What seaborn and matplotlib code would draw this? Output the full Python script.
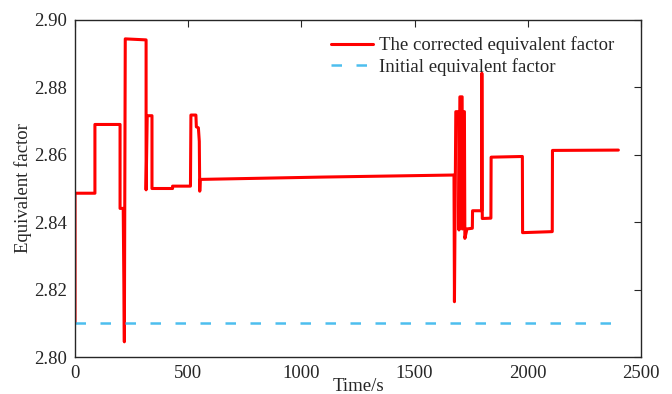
import matplotlib
matplotlib.use("Agg")
import matplotlib.pyplot as plt
import seaborn as sns
import pandas as pd

# Corrected equivalent factor trace (time in s, factor)
time_s = [0, 0, 88, 88, 199, 199, 213, 218, 222, 314, 314, 319, 340, 340,
          431, 431, 510, 512, 534, 536, 545, 549, 551, 553, 1100, 1674,
          1676, 1682, 1695, 1696, 1700, 1710, 1711, 1714, 1720, 1722, 1728,
          1731, 1755, 1756, 1796, 1797, 1799, 1837, 1838, 1976, 1977, 2108,
          2109, 2400]
corrected_factor = [2.810, 2.8486, 2.8486, 2.8690, 2.8690, 2.8441, 2.8441,
                    2.8045, 2.8944, 2.8941, 2.8496, 2.8716, 2.8716, 2.8500,
                    2.8500, 2.8507, 2.8507, 2.8718, 2.8718, 2.8683, 2.8680,
                    2.8640, 2.8492, 2.8527, 2.8534, 2.8540, 2.8164, 2.8728,
                    2.8728, 2.8377, 2.8772, 2.8772, 2.8380, 2.8728, 2.8728,
                    2.8352, 2.8370, 2.8380, 2.8382, 2.8434, 2.8434, 2.8842,
                    2.8411, 2.8412, 2.8593, 2.8595, 2.8369, 2.8372, 2.8613,
                    2.8614]

# Initial (constant) equivalent factor
initial_time = [0, 2400]
initial_factor = [2.81, 2.81]

x_ticks = [0, 500, 1000, 1500, 2000, 2500]
y_ticks = [2.80, 2.82, 2.84, 2.86, 2.88, 2.90]

sns.set_theme(style="white")
plt.rcParams["font.family"] = ["Liberation Serif", "DejaVu Serif"]

fig = plt.figure(figsize=(6.72, 3.94), dpi=100)
ax = fig.add_axes([75 / 672, 1 - 357 / 394, 566 / 672, 337 / 394])

corr = pd.DataFrame({"t": time_s, "v": corrected_factor})
init = pd.DataFrame({"t": initial_time, "v": initial_factor})

sns.lineplot(data=corr, x="t", y="v", sort=False, estimator=None, ax=ax,
             color="#FF0000", linewidth=2.2,
             label="The corrected equivalent factor")
sns.lineplot(data=init, x="t", y="v", sort=False, estimator=None, ax=ax,
             color="#4DBEEE", linewidth=1.8, dashes=False,
             label="Initial equivalent factor")
ax.lines[-1].set_dashes((4.2, 5.8))

ax.set_xlim(0, 2500)
ax.set_ylim(2.80, 2.90)
ax.set_xticks(x_ticks)
ax.set_yticks(y_ticks)
ax.set_yticklabels([f"{v:.2f}" for v in y_ticks])
ax.tick_params(direction="in", length=5, width=0.8, top=True, right=True,
               labelsize=13.5, colors="#262626")
ax.tick_params(axis="y", pad=6)
ax.tick_params(axis="x", pad=6)
for side in ["left", "right", "top", "bottom"]:
    ax.spines[side].set_visible(True)
    ax.spines[side].set_color("#262626")
    ax.spines[side].set_linewidth(1.0)

ax.set_xlabel("Time/s", fontsize=13.5, labelpad=-3, color="#262626")
ax.set_ylabel("Equivalent factor", fontsize=13.5, labelpad=1, color="#262626")

leg = ax.legend(loc="upper right", frameon=False, fontsize=13.5,
                handlelength=2.25, handletextpad=0.3, labelspacing=0.2,
                borderaxespad=0.2, bbox_to_anchor=(0.972, 0.985))
for txt in leg.get_texts():
    txt.set_color("#262626")

fig.savefig("out.png", dpi=100)
